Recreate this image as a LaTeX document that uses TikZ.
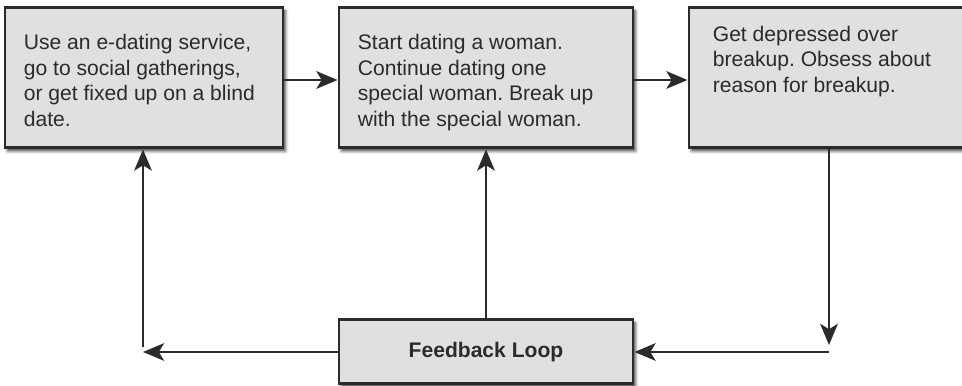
\documentclass[tikz,border=0pt]{standalone}
\usepackage{fontspec}
\setmainfont{Liberation Sans}
\frenchspacing
\usetikzlibrary{positioning,arrows.meta,shadows.blur}
\definecolor{boxgray}{HTML}{E0E0E0}
\definecolor{inkgray}{HTML}{2B2B2B}
\tikzset{
	stagebox/.style={rectangle, draw=inkgray, line width=1.7pt, fill=boxgray, inner sep=0pt, minimum height=2.8cm,
		blur shadow={shadow xshift=0.05cm, shadow yshift=-0.06cm, shadow blur radius=0.06cm, shadow opacity=75}},
	boxtext/.style={inner sep=0pt, align=left, text=inkgray, font=\fontsize{12}{14.6}\selectfont},
	flow/.style={draw=inkgray, line width=1.4pt, -{Stealth[length=12pt, width=10pt, inset=3pt]}},
}

\begin{document}
\begin{tikzpicture}
	%%%%% START %%%%%
	\useasboundingbox (0, 0) rectangle (19.24, -7.72);
	
	\node[stagebox, minimum width=5.56cm] (use) at (2.88, -1.56) {};
	\node[stagebox, minimum width=5.88cm] (date) at (9.72, -1.56) {};
	\node[stagebox, minimum width=5.6cm] (obsess) at (16.58, -1.56) {};
	\node[stagebox, minimum width=5.88cm, minimum height=1.28cm, font=\fontsize{12}{14.6}\selectfont\bfseries, text=inkgray] (loop) at (9.72, -7.04) {Feedback Loop};
	
	\node[boxtext, below right=0.55cm and 0.4cm of use.north west] {Use an e-dating service,\\go to social gatherings,\\or get fixed up on a blind\\date.};
	\node[boxtext, below right=0.55cm and 0.4cm of date.north west] {Start dating a woman.\\Continue dating one\\special woman. Break up\\with the special woman.};
	\node[boxtext, below right=0.38cm and 0.5cm of obsess.north west] {Get depressed over\\breakup. Obsess about\\reason for breakup.};
	
	\coordinate (downtip) at (16.58, -6.9);
	\coordinate (rightturn) at (16.58, -7.04);
	\coordinate (leftturn) at (2.86, -7.04);
	\coordinate (upstart) at (2.86, -6.94);
	
	\draw[flow] (use.east |- 0, -1.6) -- (date.west |- 0, -1.6);
	\draw[flow] (date.east |- 0, -1.6) -- (obsess.west |- 0, -1.6);
	\draw[flow] (obsess.south) -- (downtip);
	\draw[flow] (rightturn) -- (loop.east);
	\draw[flow] (loop.west) -- (leftturn);
	\draw[flow] (upstart) -- (use.south -| upstart);
	\draw[flow] (loop.north) -- (date.south);
	%%%%% END %%%%%
\end{tikzpicture}
\end{document}
